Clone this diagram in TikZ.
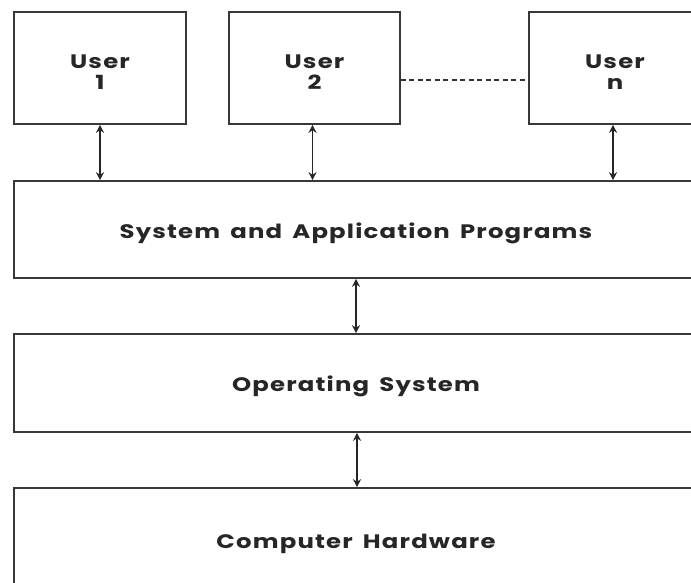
\documentclass[tikz,border=0pt]{standalone}
\usepackage{fontspec}
\setmainfont{Poppins}[LetterSpace=6, FakeStretch=1.25, WordSpace=1.6]
\usetikzlibrary{arrows.meta}
\begin{document}
\begin{tikzpicture}[x=1pt,y=-1pt,
  box/.style={draw=black!78, line width=1.6pt, fill=white, inner sep=0pt, align=center,
    font=\fontsize{19.5}{21}\selectfont\bfseries, text=black!85},
  wide/.style={box, minimum width=684pt, text height=19pt, text depth=2pt},
  user/.style={box, minimum height=112pt, text height=43pt, text depth=0pt},
  arr/.style={{Stealth[length=8pt,width=8pt]}-{Stealth[length=8pt,width=8pt]}, line width=1.4pt, black!85},
  dots/.style={line width=2.8pt, black!80, dash pattern=on 5pt off 3.5pt}]
\useasboundingbox (0,0) rectangle (691,582);
\clip (0,0) rectangle (691,582);
\fill[white] (0,0) rectangle (691,582);
\node[user, minimum width=172pt] (u1) at (100,68) {User\\1};
\node[user, minimum width=171pt] (u2) at (314.5,68) {User\\2};
\node[user, minimum width=172pt] (un) at (615,68) {User\\n};
\node[wide, minimum height=97pt] (sap) at (356,229.5) {System and Application Programs};
\node[wide, minimum height=98pt] (os) at (356,383) {Operating System};
\node[wide, minimum height=104pt] (ch) at (356,540) {Computer Hardware};
\draw[dots] ([yshift=-12pt]u2.east) -- ([yshift=-12pt]un.west);
\draw[arr] (u1.south) -- (u1.south |- sap.north);
\draw[arr] ([xshift=-2pt]u2.south) -- ([xshift=-2pt]u2.south |- sap.north);
\draw[arr] ([xshift=-2pt]un.south) -- ([xshift=-2pt]un.south |- sap.north);
\draw[arr] (sap.south) -- (os.north);
\draw[arr] ([xshift=1pt]os.south) -- ([xshift=1pt]ch.north);
\end{tikzpicture}
\end{document}
